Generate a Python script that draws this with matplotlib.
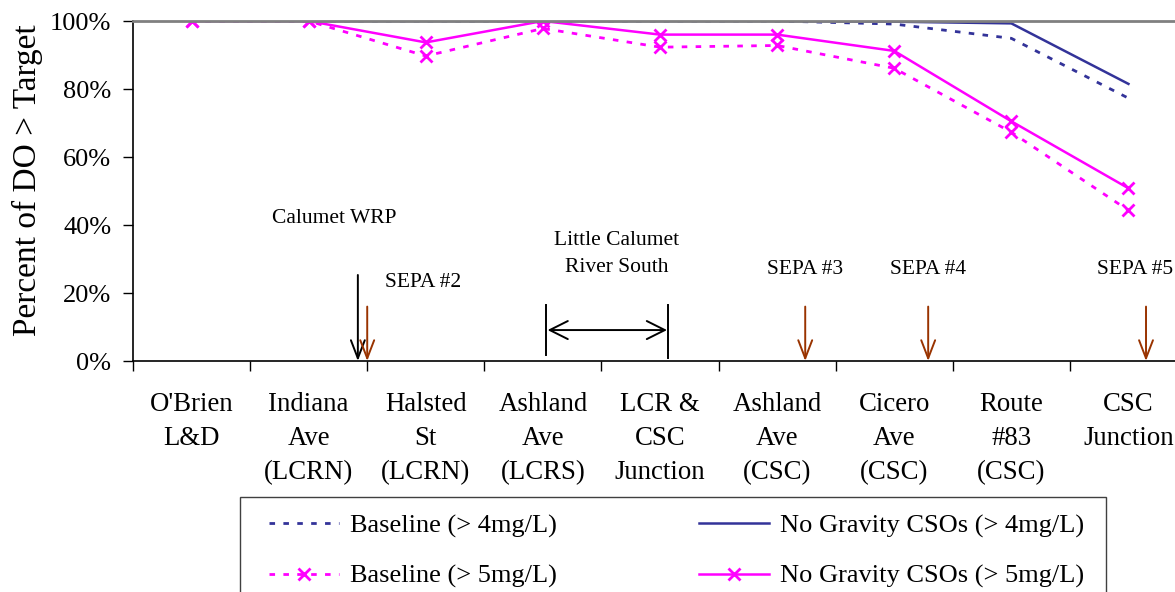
import numpy as np
import matplotlib
matplotlib.use('Agg')
import matplotlib.pyplot as plt
from matplotlib.patches import Rectangle
from matplotlib.ticker import PercentFormatter

plt.rcParams['font.family'] = ['Liberation Serif', 'DejaVu Serif']

# ---------------------------------------------------------------------------
# Data: percent of time DO above target at each location
# ---------------------------------------------------------------------------
locations = ["O'Brien\nL&D", "Indiana\nAve\n(LCRN)", "Halsted\nSt\n(LCRN)",
             "Ashland\nAve\n(LCRS)", "LCR &\nCSC\nJunction", "Ashland\nAve\n(CSC)",
             "Cicero\nAve\n(CSC)", "Route\n#83\n(CSC)", "CSC\nJunction"]

baseline_4 = [100, 100, 100, 100, 100, 100, 99.1, 94.9, 77.3]
no_cso_4 = [100, 100, 100, 100, 100, 100, 99.8, 99.3, 81.5]
baseline_5 = [100, 100, 89.7, 97.8, 92.3, 92.8, 86.1, 67.3, 44.3]
no_cso_5 = [100, 100, 93.7, 100, 96.0, 96.0, 91.2, 70.5, 50.8]

NAVY = '#333399'
MAGENTA = '#FF00FF'
BROWN = '#993300'

x = np.arange(len(locations))

fig = plt.figure(figsize=(11.75, 5.92), dpi=100)
ax = fig.add_axes([133 / 1175, 1 - 361 / 592, 1054 / 1175, 340 / 592])

ax.plot(x, baseline_4, color=NAVY, lw=2, ls=(0, (2, 3)),
        label='Baseline (> 4mg/L)')
ax.plot(x, baseline_5, color=MAGENTA, lw=2, ls=(0, (2, 3)),
        marker='x', ms=8, mew=2, label='Baseline (> 5mg/L)')
ax.plot(x, no_cso_4, color=NAVY, lw=1.8,
        label='No Gravity CSOs (> 4mg/L)')
ax.plot(x, no_cso_5, color=MAGENTA, lw=1.8,
        marker='x', ms=8, mew=2, label='No Gravity CSOs (> 5mg/L)')

ax.set_xlim(-0.5, len(locations) - 0.5)
ax.set_ylim(0, 100)
ax.yaxis.set_major_formatter(PercentFormatter(decimals=0))
ax.set_yticks(np.arange(0, 101, 20))

# ticks between categories, labels centred under each category
ax.set_xticks(np.arange(-0.5, len(locations)), labels=[])
ax.set_xticks(x, labels=locations, minor=True, linespacing=1.47)
ax.tick_params(axis='x', which='major', direction='out', length=7, width=1)
ax.tick_params(axis='x', which='minor', length=0, pad=22.5, labelsize=19.3)
ax.tick_params(axis='y', direction='out', length=7, width=1, labelsize=19, pad=8.5)

ax.set_ylabel('Percent of DO > Target', fontsize=24)
ax.yaxis.set_label_coords(-0.085, 0.532)

ax.spines['top'].set_color('#808080')
ax.spines['top'].set_linewidth(2)
ax.spines['right'].set_color('#808080')
ax.spines['left'].set_linewidth(1.2)
ax.spines['bottom'].set_linewidth(1.2)

# --- location annotations ---
arrow_down = '->,head_length=1.3,head_width=0.5'
ax.text(1.22, 42, 'Calumet WRP', ha='center', va='center', fontsize=15.5)
ax.annotate('', xy=(1.42, 0), xytext=(1.42, 25.3),
            arrowprops=dict(arrowstyle=arrow_down, color='black', lw=1.4,
                            shrinkA=0, shrinkB=0))

sepa = [(1.5, 'SEPA #2', 1.98, 23.0), (5.24, 'SEPA #3', 5.24, 26.8),
        (6.29, 'SEPA #4', 6.29, 26.8), (8.15, 'SEPA #5', 8.06, 26.8)]
for ax_x, name, tx, ty in sepa:
    ax.text(tx, ty, name, ha='center', va='center', fontsize=15.5)
    ax.annotate('', xy=(ax_x, 0), xytext=(ax_x, 16),
                arrowprops=dict(arrowstyle=arrow_down, color=BROWN, lw=1.4,
                                shrinkA=0, shrinkB=0))

ax.text(3.63, 31.5, 'Little Calumet\nRiver South', ha='center', va='center',
        fontsize=15.5, linespacing=1.55)
ax.plot([3.03, 3.03], [1.8, 16.5], color='black', lw=1.4)
ax.plot([4.07, 4.07], [1.0, 16.5], color='black', lw=1.4)
ax.annotate('', xy=(3.04, 9.1), xytext=(4.06, 9.1),
            arrowprops=dict(arrowstyle='<->,head_length=1.3,head_width=0.65',
                            color='black', lw=1.4, shrinkA=0, shrinkB=0))

# legend: entries placed without frame, box drawn separately
handles, labels = ax.get_legend_handles_labels()
fig.legend(handles, labels, ncol=2, loc='upper left',
           bbox_to_anchor=(269 / 1175, 1 - 514 / 592),
           fontsize=19, frameon=False,
           handlelength=2.65, handletextpad=0.42, columnspacing=5.4,
           labelspacing=1.0, borderpad=0, borderaxespad=0)
fig.patches.append(Rectangle((240 / 1175, -0.05), (1106 - 240) / 1175,
                             0.05 + 1 - 497 / 592, transform=fig.transFigure,
                             fill=False, edgecolor='#404040', lw=1.0))

fig.savefig('out.png', dpi=100)
